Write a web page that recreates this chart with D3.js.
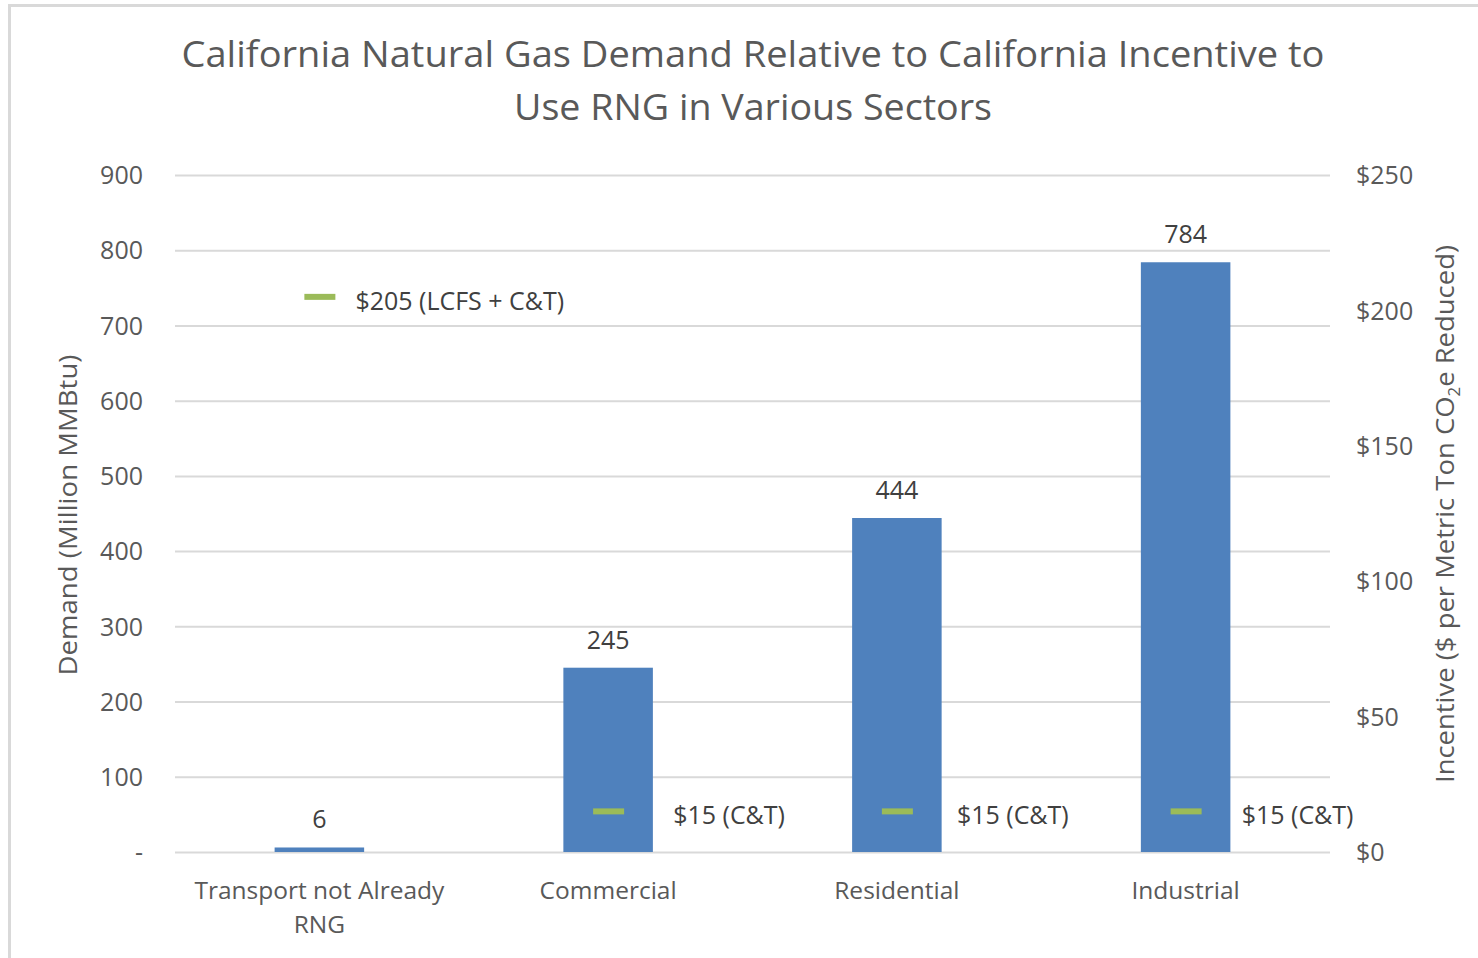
<!DOCTYPE html>
<html>
<head>
<meta charset="utf-8">
<script src="https://cdn.jsdelivr.net/npm/d3@7"></script>
<style>
body{margin:0;background:#fff;}
svg{display:block;font-family:"Open Sans",sans-serif;}
</style>
</head>
<body>
<div id="chart"></div>
<script>
// data
var sectors=["Transport not Already RNG","Commercial","Residential","Industrial"];
var demand=[6,245,444,784];
var incentive=[205,15,15,15];
var incentiveLabels=["$205 (LCFS + C&T)","$15 (C&T)","$15 (C&T)","$15 (C&T)"];
var leftTicks=[0,100,200,300,400,500,600,700,800,900];
var rightTicks=[0,50,100,150,200,250];

var width=1478,height=958;
var plotLeft=175,plotRight=1330,plotTop=175,plotBottom=852;
var textCol="#595959";

var svg=d3.select("#chart").append("svg")
	.attr("width",width)
	.attr("height",height);

// border of the chart box
svg.append("rect")
	.attr("x",9.5).attr("y",5.5)
	.attr("width",width+20).attr("height",height+20)
	.style("fill","#fff")
	.style("stroke","#d9d9d9")
	.style("stroke-width","3px");

var x=d3.scaleBand().domain(sectors).range([plotLeft,plotRight]).padding(0);
var y=d3.scaleLinear().domain([0,900]).range([plotBottom,plotTop]);
var y2=d3.scaleLinear().domain([0,250]).range([plotBottom,plotTop]);

// title
var title=svg.append("text")
	.attr("text-anchor","middle")
	.style("fill",textCol)
	.style("font-size","37px");
title.append("tspan").attr("x",753).attr("y",67)
	.attr("textLength",1143).attr("lengthAdjust","spacingAndGlyphs")
	.text("California Natural Gas Demand Relative to California Incentive to");
title.append("tspan").attr("x",753).attr("y",120)
	.attr("textLength",478).attr("lengthAdjust","spacingAndGlyphs")
	.text("Use RNG in Various Sectors");

// gridlines + left axis
var yAxis=d3.axisLeft(y).tickValues(leftTicks)
	.tickSize(-(plotRight-plotLeft)).tickPadding(32)
	.tickFormat(function(d){return d==0?"-":d;});
var ga=svg.append("g").attr("transform","translate("+plotLeft+",0)").call(yAxis);
ga.select(".domain").remove();
ga.selectAll(".tick line").style("stroke","#d9d9d9").style("stroke-width","2px");
ga.selectAll(".tick text").style("fill",textCol).style("font-size","25px")
	.style("font-family","Open Sans").attr("dy","0.35em");

// right axis
var y2Axis=d3.axisRight(y2).tickValues(rightTicks).tickSize(0).tickPadding(26)
	.tickFormat(function(d){return "$"+d;});
var gr=svg.append("g").attr("transform","translate("+plotRight+",0)").call(y2Axis);
gr.select(".domain").remove();
gr.selectAll(".tick text").style("fill",textCol).style("font-size","25px")
	.style("font-family","Open Sans").attr("dy","0.35em");

// axis titles
svg.append("text")
	.attr("transform","translate(77,515) rotate(-90)")
	.attr("text-anchor","middle")
	.style("fill",textCol).style("font-size","25px")
	.attr("textLength",321).attr("lengthAdjust","spacingAndGlyphs")
	.text("Demand (Million MMBtu)");

var rt=svg.append("text")
	.attr("transform","translate(1454,514) rotate(-90)")
	.attr("text-anchor","middle")
	.style("fill",textCol).style("font-size","26px")
	.attr("textLength",538).attr("lengthAdjust","spacingAndGlyphs");
rt.append("tspan").text("Incentive ($ per Metric Ton CO");
rt.append("tspan").attr("dy",6).style("font-size","16px").text("2");
rt.append("tspan").attr("dy",-6).text("e Reduced)");

// bars
var barW=x.bandwidth()*0.31;
svg.selectAll(".bar")
	.data(sectors)
	.enter()
	.append("rect")
	.attr("class","bar")
	.attr("x",function(d){return x(d)+x.bandwidth()/2-barW/2;})
	.attr("y",function(d,i){return y(demand[i]);})
	.attr("width",barW)
	.attr("height",function(d,i){return y(0)-y(demand[i]);})
	.style("fill","#4F81BD");

// bar value labels
svg.selectAll(".barLabel")
	.data(sectors)
	.enter()
	.append("text")
	.attr("class","barLabel")
	.attr("x",function(d){return x(d)+x.bandwidth()/2;})
	.attr("y",function(d,i){return y(demand[i])-19;})
	.attr("text-anchor","middle")
	.style("fill","#404040").style("font-size","25px")
	.text(function(d,i){return demand[i];});

// incentive markers
var labelDx=[36,65,60,56];
svg.selectAll(".mark")
	.data(sectors)
	.enter()
	.append("rect")
	.attr("class","mark")
	.attr("x",function(d){return x(d)+x.bandwidth()/2-15;})
	.attr("y",function(d,i){return y2(incentive[i])-3;})
	.attr("width",31)
	.attr("height",6)
	.style("fill","#9BBB59");

svg.selectAll(".markLabel")
	.data(sectors)
	.enter()
	.append("text")
	.attr("class","markLabel")
	.attr("x",function(d,i){return x(d)+x.bandwidth()/2+labelDx[i];})
	.attr("y",function(d,i){return y2(incentive[i])+13;})
	.style("fill","#404040").style("font-size","25px")
	.text(function(d,i){return incentiveLabels[i];});

// category labels
var xl=svg.selectAll(".xLabel")
	.data(sectors)
	.enter()
	.append("text")
	.attr("class","xLabel")
	.attr("text-anchor","middle")
	.style("fill",textCol).style("font-size","24.5px");
xl.each(function(d){
	var t=d3.select(this);
	var cx=x(d)+x.bandwidth()/2;
	var lines=d=="Transport not Already RNG"?["Transport not Already","RNG"]:[d];
	lines.forEach(function(l,k){
		t.append("tspan").attr("x",cx).attr("y",899+k*34).text(l);
	});
});
</script>
</body>
</html>
